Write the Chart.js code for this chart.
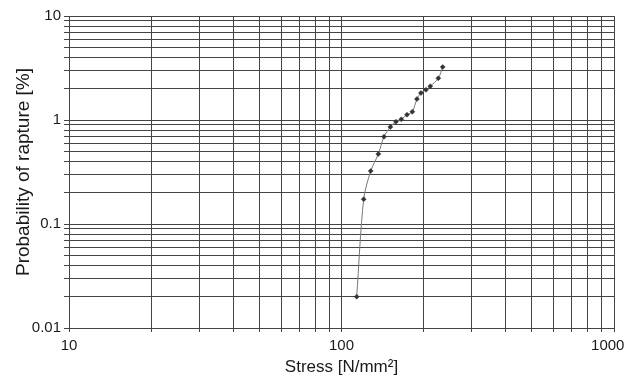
<!DOCTYPE html>
<html>
<head>
<meta charset="utf-8">
<script src="https://cdn.jsdelivr.net/npm/chart.js@4"></script>
<style>
  html, body { margin: 0; padding: 0; background: #fff; }
  #wrap { width: 625px; height: 378px; }
</style>
</head>
<body>
<div id="wrap"><canvas id="rupturaChart" width="625" height="378"></canvas></div>
<script>
// datos
const stress = [113.7, 120.6, 128.0, 136.5, 143.2, 151.1, 158.5, 165.7, 173.9, 181.9, 189.2, 195.7, 204.2, 211.8, 226.6, 235.2];
const probabilidad = [0.02, 0.173, 0.323, 0.471, 0.691, 0.857, 0.963, 1.016, 1.125, 1.20, 1.59, 1.82, 1.95, 2.11, 2.52, 3.23];
const xTicks = [10, 100, 1000];
const yTicks = [0.01, 0.1, 1, 10];

// lineas de rejilla 1..9 x 10^n
const logGrid = (min, max) => {
    let out = [];
    for (let d = min; d < max; d *= 10) {
        for (let k = 1; k < 10; k++) out.push(+(d * k).toPrecision(3));
    }
    out.push(max);
    return out;
}
const esMayor = (v, lista) => lista.some(t => Math.abs(t - v) / t < 1e-6);

Chart.defaults.font.family = '"Liberation Sans", Arial, sans-serif';
Chart.defaults.color = '#1a1a1a';

const puntos = stress.map((s, i) => ({ x: s, y: probabilidad[i] }));

window.grafica = new Chart('rupturaChart', {
    type: 'scatter',
    data: {
        datasets: [{
            data: puntos,
            showLine: true,
            borderColor: '#777',
            borderWidth: 1,
            tension: 0.3,
            pointStyle: 'rectRot',
            pointRadius: 2.5,
            pointBackgroundColor: '#333',
            pointBorderColor: '#333',
            pointBorderWidth: 0.5
        }]
    },
    options: {
        responsive: false,
        animation: false,
        layout: { padding: { left: 12, right: 11, top: 16, bottom: 0 } },
        plugins: { legend: { display: false }, tooltip: { enabled: false } },
        scales: {
            x: {
                type: 'logarithmic',
                min: 10,
                max: 1000,
                afterBuildTicks: (axis) => { axis.ticks = logGrid(10, 1000).map(v => ({ value: v })); },
                afterFit: (axis) => { axis.height = 50; axis.paddingRight = 0; axis.paddingLeft = 0; },
                border: { color: '#444', width: 1 },
                grid: { color: '#444', lineWidth: 1, tickLength: 4, drawTicks: true },
                ticks: {
                    autoSkip: false,
                    maxRotation: 0,
                    padding: 5,
                    font: { size: 15 },
                    // el 1000 se corre a la izquierda para que quepa
                    callback: (v) => v === 1000 ? '1000   ' : (esMayor(v, xTicks) ? String(v) : '')
                },
                title: {
                    display: true,
                    text: 'Stress [N/mm²]',
                    font: { size: 17 },
                    padding: { top: 0, bottom: 0 }
                }
            },
            y: {
                type: 'logarithmic',
                min: 0.01,
                max: 10,
                afterBuildTicks: (axis) => { axis.ticks = logGrid(0.01, 10).map(v => ({ value: v })); },
                afterFit: (axis) => { axis.width = 57; axis.paddingTop = 0; axis.paddingBottom = 0; },
                border: { color: '#444', width: 1 },
                grid: {
                    color: '#444',
                    lineWidth: 1,
                    tickLength: 5,
                    drawTicks: true
                },
                ticks: {
                    autoSkip: false,
                    padding: 3,
                    font: { size: 15 },
                    callback: (v) => esMayor(v, yTicks) ? String(v) : ''
                },
                title: {
                    display: true,
                    text: 'Probability of rapture [%]',
                    font: { size: 19 },
                    padding: { top: 0, bottom: 0 }
                }
            }
        }
    }
});
</script>
</body>
</html>
